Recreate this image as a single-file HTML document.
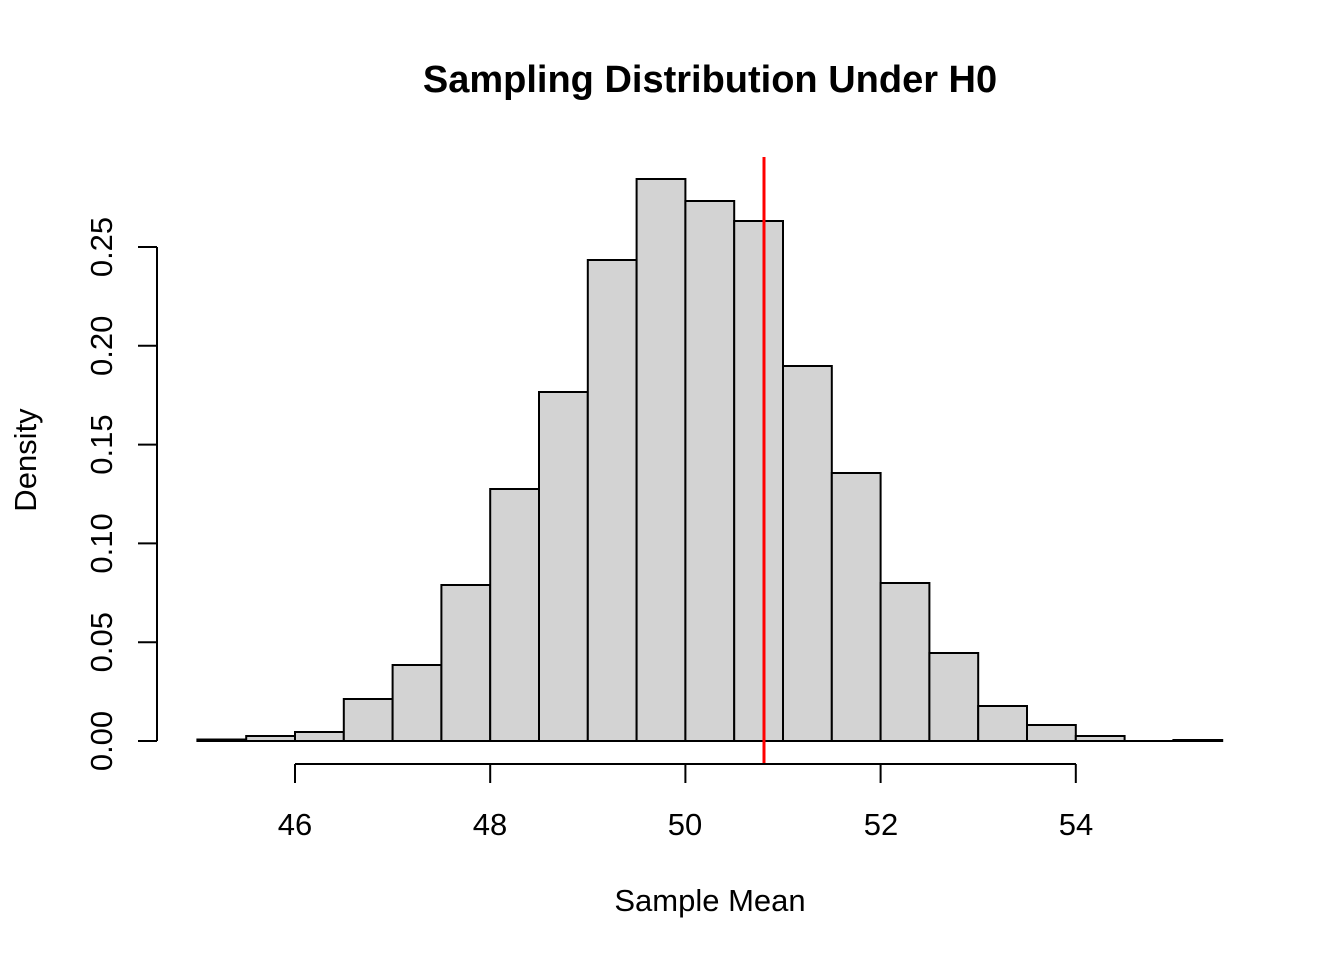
<!DOCTYPE html>
<html><head><meta charset="utf-8"><style>html,body{margin:0;padding:0;background:#fff}svg{display:block}text{font-family:"Liberation Sans",Arial,sans-serif;fill:#000}</style></head>
<body>
<svg width="1344" height="960" viewBox="0 0 1344 960" xmlns="http://www.w3.org/2000/svg">
<rect width="1344" height="960" fill="#fff"/>
<text x="710" y="92" font-size="38" font-weight="bold" text-anchor="middle">Sampling Distribution Under H0</text>
<g fill="#d3d3d3" stroke="#000" stroke-width="2">
<rect x="197.4" y="739.5" width="48.8" height="1.5"/>
<rect x="246.2" y="736" width="48.8" height="5"/>
<rect x="295.0" y="732" width="48.8" height="9"/>
<rect x="343.8" y="699" width="48.8" height="42"/>
<rect x="392.6" y="665" width="48.8" height="76"/>
<rect x="441.4" y="585" width="48.8" height="156"/>
<rect x="490.2" y="489" width="48.8" height="252"/>
<rect x="539.0" y="392" width="48.8" height="349"/>
<rect x="587.8" y="260" width="48.8" height="481"/>
<rect x="636.6" y="179" width="48.8" height="562"/>
<rect x="685.4" y="201" width="48.8" height="540"/>
<rect x="734.2" y="221" width="48.8" height="520"/>
<rect x="783.0" y="366" width="48.8" height="375"/>
<rect x="831.8" y="473" width="48.8" height="268"/>
<rect x="880.6" y="583" width="48.8" height="158"/>
<rect x="929.4" y="653" width="48.8" height="88"/>
<rect x="978.2" y="706" width="48.8" height="35"/>
<rect x="1027.0" y="725" width="48.8" height="16"/>
<rect x="1075.8" y="736" width="48.8" height="5"/>
<rect x="1173.4" y="740" width="48.8" height="1"/>
</g>
<line x1="1124.6" y1="741" x2="1173.4" y2="741" stroke="#000" stroke-width="2"/>
<line x1="764" y1="157" x2="764" y2="764" stroke="#ff0000" stroke-width="3"/>
<g stroke="#000" stroke-width="2" fill="none">
<path d="M157 247V741"/>
<path d="M138 741H157M138 642.2H157M138 543.4H157M138 444.6H157M138 345.8H157M138 247H157"/>
<path d="M295 764H1076"/>
<path d="M295 764V783M490.2 764V783M685.4 764V783M880.6 764V783M1075.8 764V783"/>
</g>
<g font-size="31" text-anchor="middle">
<text x="295" y="835">46</text><text x="490" y="835">48</text><text x="685" y="835">50</text><text x="881" y="835">52</text><text x="1076" y="835">54</text>
<text x="710" y="911">Sample Mean</text>
</g>
<g font-size="31" text-anchor="middle">
<text transform="translate(112,741) rotate(-90)">0.00</text>
<text transform="translate(112,642.2) rotate(-90)">0.05</text>
<text transform="translate(112,543.4) rotate(-90)">0.10</text>
<text transform="translate(112,444.6) rotate(-90)">0.15</text>
<text transform="translate(112,345.8) rotate(-90)">0.20</text>
<text transform="translate(112,247) rotate(-90)">0.25</text>
<text transform="translate(36,460) rotate(-90)">Density</text>
</g>
</svg>
</body></html>
